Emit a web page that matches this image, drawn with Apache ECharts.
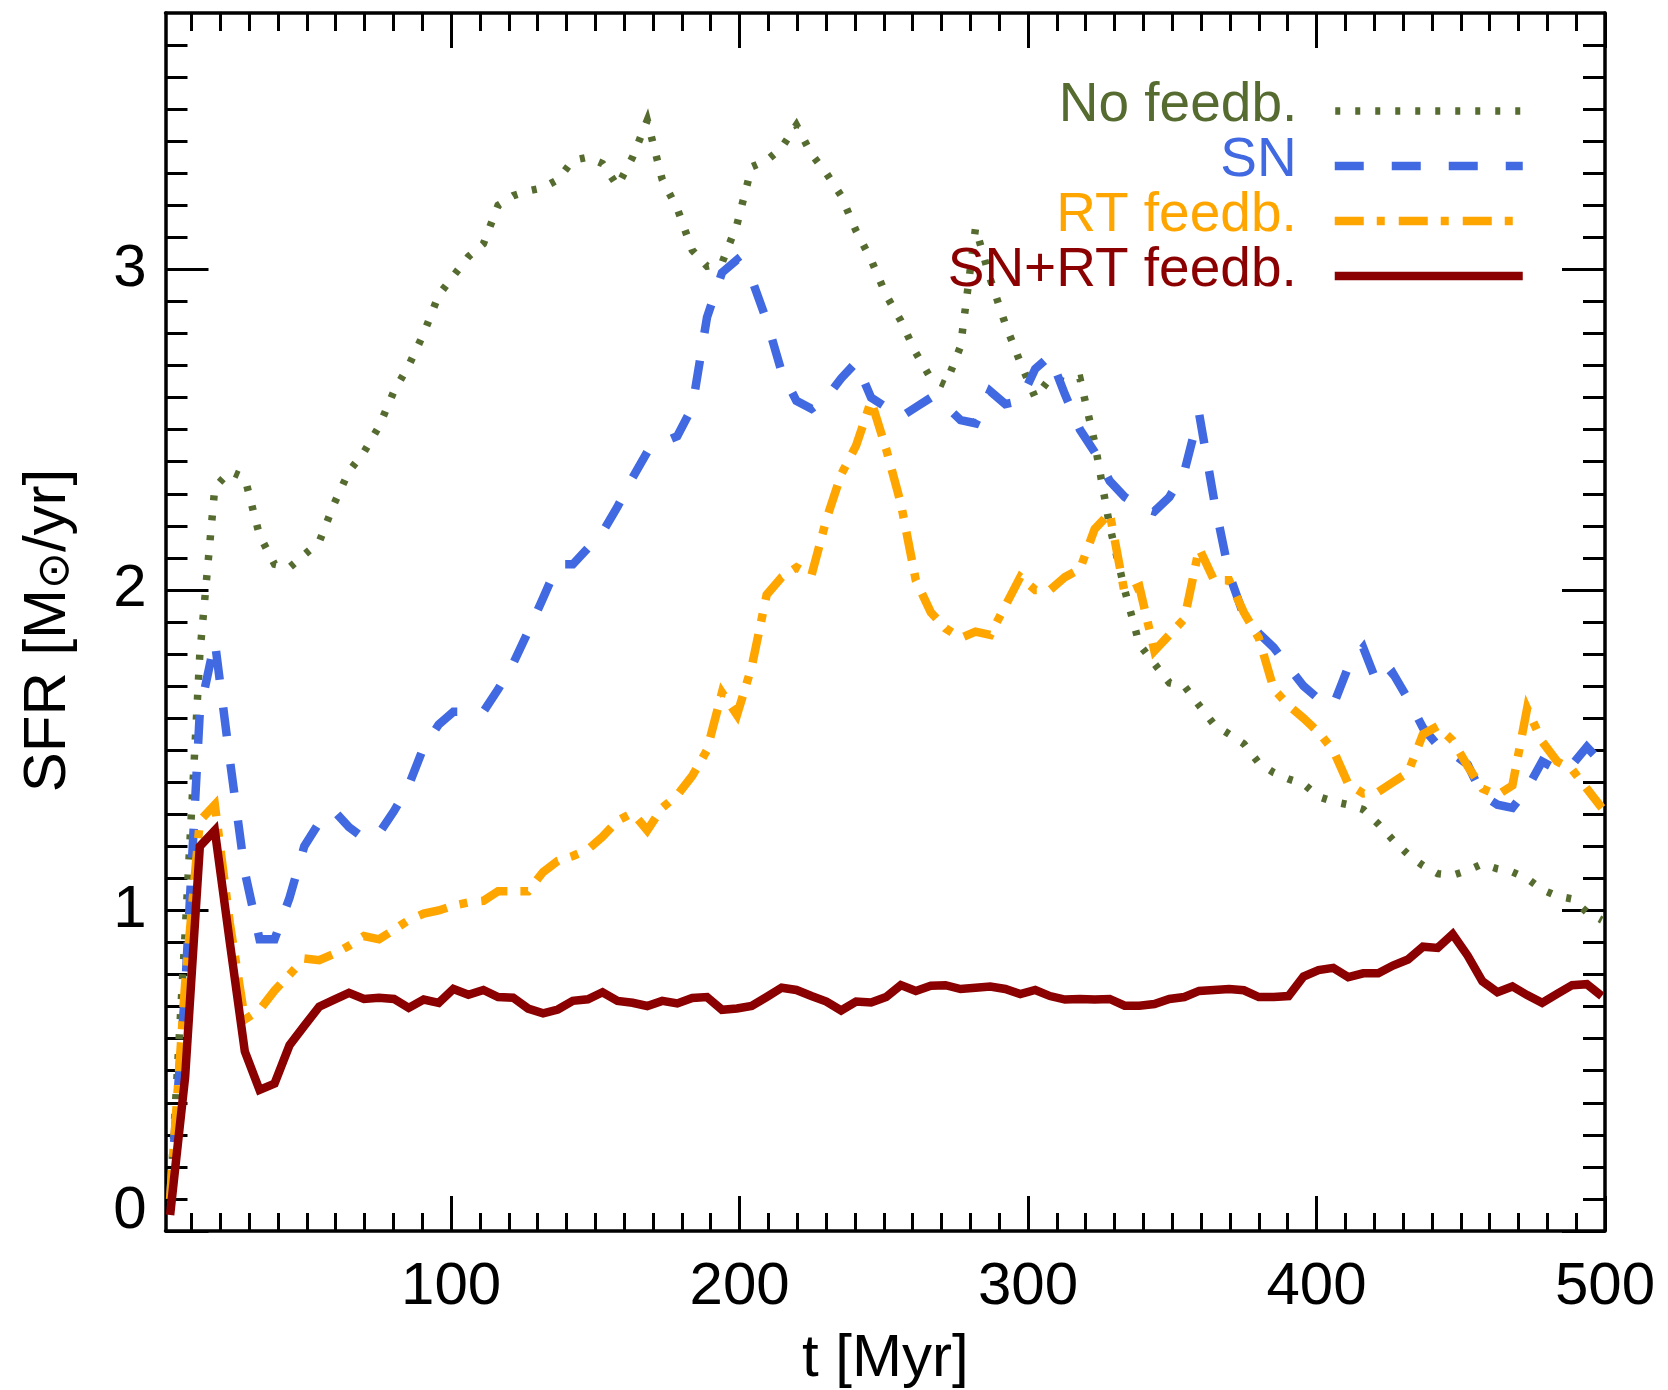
<!DOCTYPE html>
<html>
<head>
<meta charset="utf-8">
<title>Star formation rate</title>
<script src="https://cdn.jsdelivr.net/npm/echarts@6/dist/echarts.min.js"></script>
<style>
  html, body { margin: 0; padding: 0; background: #ffffff; }
  #chart { width: 1668px; height: 1390px; }
</style>
</head>
<body>
<div id="chart"></div>
<script>
// Snapshot times [Myr]
const time = [2.6, 7.8, 12.9, 18.1, 23.3, 28.5, 33.6, 38.8, 44.0, 49.1,
  54.3, 59.5, 64.6, 69.8, 75.0, 80.2, 85.3, 90.5, 95.7, 100.8,
  106.0, 111.2, 116.3, 121.5, 126.7, 131.9, 137.0, 142.2, 147.4, 152.5,
  157.7, 162.9, 168.0, 173.2, 178.4, 183.6, 188.7, 193.9, 199.1, 204.2,
  209.4, 214.6, 219.7, 224.9, 230.1, 235.2, 240.4, 245.6, 250.8, 255.9,
  261.1, 266.3, 271.4, 276.6, 281.8, 286.9, 292.1, 297.3, 302.5, 307.6,
  312.8, 318.0, 323.1, 328.3, 333.5, 338.6, 343.8, 349.0, 354.2, 359.3,
  364.5, 369.7, 374.8, 380.0, 385.2, 390.3, 395.5, 400.7, 405.8, 411.0,
  416.2, 421.4, 426.5, 431.7, 436.9, 442.0, 447.2, 452.4, 457.5, 462.7,
  467.9, 473.0, 478.2, 483.4, 488.6, 493.7, 498.9];

// SFR [Msun/yr] for each run
const sfrNoFeedback = [0.10, 0.93, 1.80, 2.32, 2.37, 2.35, 2.17, 2.08, 2.07, 2.11,
  2.15, 2.27, 2.37, 2.43, 2.51, 2.62, 2.70, 2.80, 2.92, 2.98,
  3.04, 3.08, 3.20, 3.23, 3.245, 3.255, 3.28, 3.34, 3.35, 3.33,
  3.26, 3.35, 3.465, 3.28, 3.19, 3.06, 3.01, 3.02, 3.14, 3.32,
  3.34, 3.38, 3.45, 3.36, 3.30, 3.23, 3.12, 3.03, 2.92, 2.84,
  2.74, 2.66, 2.64, 2.76, 3.13, 2.97, 2.83, 2.71, 2.60, 2.66,
  2.65, 2.66, 2.46, 2.20, 2.00, 1.83, 1.77, 1.71, 1.70, 1.64,
  1.58, 1.55, 1.52, 1.46, 1.43, 1.41, 1.395, 1.355, 1.34, 1.33,
  1.315, 1.27, 1.22, 1.175, 1.14, 1.115, 1.11, 1.125, 1.145, 1.13,
  1.12, 1.10, 1.065, 1.045, 1.036, 0.995, 0.97];

const sfrSN = [0.10, 0.75, 1.62, 1.84, 1.47, 1.12, 0.91, 0.91, 1.04, 1.20,
  1.275, 1.31, 1.26, 1.225, 1.24, 1.31, 1.39, 1.51, 1.58, 1.62,
  1.62, 1.62, 1.69, 1.77, 1.87, 1.975, 2.08, 2.08, 2.13, 2.18,
  2.26, 2.35, 2.43, 2.46, 2.48, 2.57, 2.85, 2.99, 3.03, 2.97,
  2.84, 2.68, 2.59, 2.565, 2.60, 2.66, 2.71, 2.60, 2.57, 2.54,
  2.57, 2.60, 2.575, 2.53, 2.52, 2.62, 2.58, 2.59, 2.69, 2.73,
  2.61, 2.50, 2.43, 2.34, 2.29, 2.26, 2.245, 2.29, 2.37, 2.55,
  2.28, 2.05, 1.92, 1.865, 1.82, 1.76, 1.70, 1.66, 1.64, 1.76,
  1.82, 1.70, 1.74, 1.66, 1.57, 1.515, 1.49, 1.455, 1.36, 1.33,
  1.32, 1.38, 1.465, 1.44, 1.455, 1.51, 1.46];

const sfrRT = [0.10, 0.77, 1.28, 1.33, 0.96, 0.66, 0.69, 0.75, 0.80, 0.85,
  0.845, 0.865, 0.89, 0.92, 0.91, 0.94, 0.97, 0.99, 1.00, 1.015,
  1.025, 1.03, 1.06, 1.06, 1.06, 1.12, 1.155, 1.17, 1.19, 1.23,
  1.28, 1.305, 1.25, 1.32, 1.36, 1.42, 1.50, 1.68, 1.61, 1.76,
  1.985, 2.04, 2.07, 2.045, 2.22, 2.36, 2.45, 2.59, 2.44, 2.27,
  2.03, 1.93, 1.88, 1.85, 1.87, 1.86, 1.95, 2.04, 2.00, 2.00,
  2.04, 2.065, 2.19, 2.24, 1.99, 2.01, 1.81, 1.86, 1.91, 2.13,
  2.03, 2.03, 1.93, 1.85, 1.69, 1.64, 1.60, 1.556, 1.50, 1.395,
  1.365, 1.37, 1.40, 1.43, 1.55, 1.575, 1.53, 1.45, 1.38, 1.36,
  1.39, 1.63, 1.527, 1.465, 1.44, 1.38, 1.32];

const sfrSNRT = [0.05, 0.48, 1.20, 1.25, 0.90, 0.56, 0.44, 0.46, 0.58, 0.64,
  0.70, 0.722, 0.743, 0.724, 0.728, 0.724, 0.696, 0.722, 0.712, 0.755,
  0.737, 0.752, 0.730, 0.728, 0.694, 0.679, 0.691, 0.718, 0.723, 0.745,
  0.718, 0.712, 0.702, 0.718, 0.710, 0.727, 0.730, 0.690, 0.694, 0.702,
  0.730, 0.759, 0.752, 0.733, 0.716, 0.688, 0.716, 0.713, 0.730, 0.767,
  0.749, 0.765, 0.767, 0.755, 0.759, 0.763, 0.755, 0.739, 0.752, 0.733,
  0.722, 0.724, 0.722, 0.724, 0.703, 0.703, 0.708, 0.724, 0.730, 0.749,
  0.752, 0.755, 0.751, 0.730, 0.730, 0.733, 0.794, 0.814, 0.821, 0.792,
  0.804, 0.804, 0.828, 0.847, 0.887, 0.883, 0.926, 0.859, 0.779, 0.745,
  0.763, 0.736, 0.712, 0.740, 0.767, 0.770, 0.733];

// Run names, in drawing order
const runNames = ['No feedb.', 'SN', 'RT feedb.', 'SN+RT feedb.'];

// Tick labels
const xTickLabels = [100, 200, 300, 400, 500];
const yTickLabels = [0, 1, 2, 3];

// Minor tick positions (every 10 Myr / every 0.1 Msun/yr, skipping the major ones)
const xMinorTicks = [];
for (let v = 10; v < 500; v += 10) if (v % 100 !== 0) xMinorTicks.push(v);
const yMinorTicks = [];
for (let i = 1; i < 38; i++) if (i % 10 !== 0) yMinorTicks.push(i / 10);

const FONT = "'Liberation Sans', Arial, Helvetica, sans-serif";
const BLACK = '#000000';

const styles = [
  { color: '#556B2F', width: 7.5, dash: [5, 15] },
  { color: '#4169E1', width: 8.5, dash: [29, 28] },
  { color: '#FFA500', width: 8.5, dash: [29, 13, 8, 14] },
  { color: '#8B0000', width: 8.5, dash: 'solid' }
];
const runValues = [sfrNoFeedback, sfrSN, sfrRT, sfrSNRT];

const X_MIN = 1, X_MAX = 500, Y_MIN = 0, Y_MAX = 3.8;

function pairs(values) {
  return time.map((t, i) => [t, values[i]]);
}

// One side of the plot frame: an axis line and/or a set of inward ticks
function frameAxis(kind, position, opts) {
  return {
    type: 'value',
    position: position,
    min: kind === 'x' ? X_MIN : Y_MIN,
    max: kind === 'x' ? X_MAX : Y_MAX,
    axisLine: { show: !!opts.line, onZero: false, lineStyle: { color: BLACK, width: 3.5 } },
    axisTick: {
      show: true, inside: true, length: opts.tickLength,
      customValues: opts.ticks,
      lineStyle: { color: BLACK, width: 3 }
    },
    axisLabel: { show: false },
    splitLine: { show: false },
    minorTick: { show: false },
    silent: true
  };
}

// Bottom axis: major ticks, labels, title
const xBottom = frameAxis('x', 'bottom', { line: true, tickLength: 35, ticks: xTickLabels });
xBottom.axisLabel = {
  show: true, customValues: xTickLabels, margin: 26,
  fontSize: 60, fontFamily: FONT, color: BLACK,
  showMinLabel: true, showMaxLabel: true
};
xBottom.name = 't [Myr]';
xBottom.nameLocation = 'middle';
xBottom.nameGap = 98;
xBottom.nameMoveOverlap = false;
xBottom.nameTextStyle = { fontSize: 60, fontFamily: FONT, color: BLACK };

// Left axis: major ticks, labels, title
const yLeft = frameAxis('y', 'left', { line: true, tickLength: 43, ticks: yTickLabels });
yLeft.axisLabel = {
  show: true, customValues: yTickLabels, margin: 19,
  fontSize: 60, fontFamily: FONT, color: BLACK,
  showMinLabel: true, showMaxLabel: true,
  formatter: v => (v === 0 ? '{z|0}' : String(v)),
  rich: { z: { fontSize: 60, fontFamily: FONT, color: BLACK, padding: [0, 0, 39, 0] } }
};
yLeft.name = 'SFR [M{sun|\u2299}/yr]';
yLeft.nameLocation = 'middle';
yLeft.nameGap = 87;
yLeft.nameMoveOverlap = false;
yLeft.nameTextStyle = {
  fontSize: 60, fontFamily: FONT, color: BLACK, lineHeight: 60,
  padding: [0, 17, 0, 0],
  rich: {
    sun: { fontSize: 44, fontFamily: "'DejaVu Sans', sans-serif", color: BLACK, lineHeight: 20, verticalAlign: 'bottom' }
  }
};

const option = {
  animation: false,
  backgroundColor: '#ffffff',
  grid: { left: 165.5, right: 63, top: 13, bottom: 159, containLabel: false, outerBoundsMode: 'none' },
  xAxis: [
    xBottom,
    frameAxis('x', 'bottom', { line: false, tickLength: 18, ticks: xMinorTicks }),
    frameAxis('x', 'top', { line: true, tickLength: 35, ticks: xTickLabels }),
    frameAxis('x', 'top', { line: false, tickLength: 18, ticks: xMinorTicks })
  ],
  yAxis: [
    yLeft,
    frameAxis('y', 'left', { line: false, tickLength: 22, ticks: yMinorTicks }),
    frameAxis('y', 'right', { line: true, tickLength: 43, ticks: yTickLabels }),
    frameAxis('y', 'right', { line: false, tickLength: 22, ticks: yMinorTicks })
  ],
  legend: runNames.map((name, i) => ({
    data: [name],
    orient: 'horizontal',
    align: 'right',
    right: 141,
    top: [78, 133, 188, 243][i],
    padding: 0,
    itemWidth: 188,
    itemHeight: 16,
    selectedMode: false,
    itemStyle: { opacity: 0 },
    lineStyle: { width: styles[i].width },
    formatter: n => '{t|' + n + '}',
    textStyle: {
      fontSize: 55, fontFamily: FONT, color: styles[i].color,
      rich: { t: { fontSize: 55, fontFamily: FONT, color: styles[i].color, padding: [0, 33, 11, 0] } }
    }
  })),
  series: runNames.map((name, i) => ({
    name: name,
    type: 'line',
    xAxisIndex: 0,
    yAxisIndex: 0,
    data: pairs(runValues[i]),
    symbol: 'none',
    showSymbol: false,
    clip: true,
    z: 2 + i,
    itemStyle: { color: styles[i].color },
    lineStyle: {
      color: styles[i].color,
      width: styles[i].width,
      type: styles[i].dash,
      cap: 'butt',
      join: 'miter'
    },
    emphasis: { disabled: true }
  }))
};

const chart = echarts.init(document.getElementById('chart'), null, { renderer: 'canvas' });
chart.setOption(option);
</script>
</body>
</html>
